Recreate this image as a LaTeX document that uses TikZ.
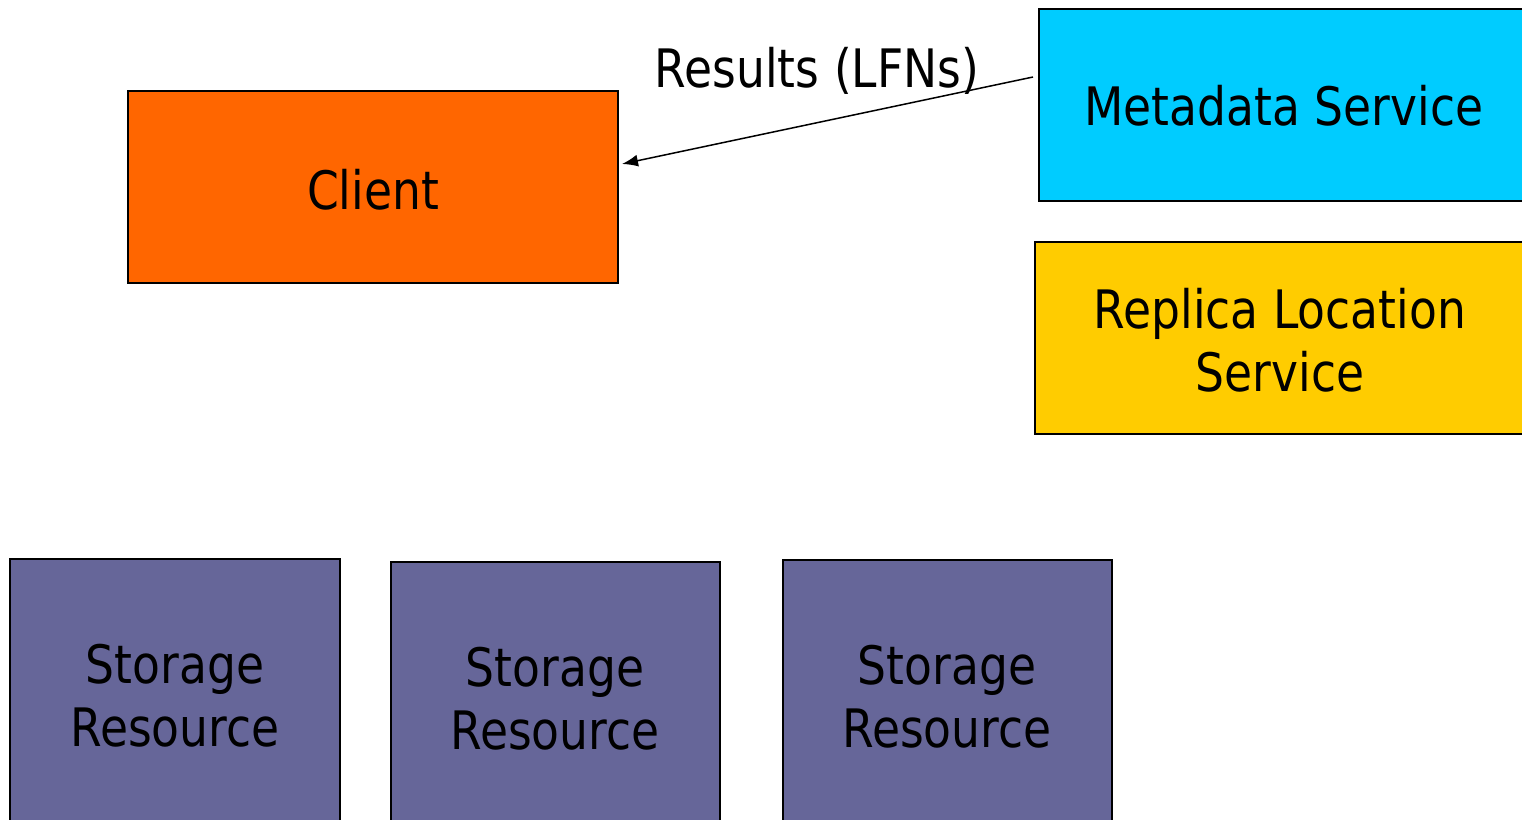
\documentclass[tikz,border=0pt]{standalone}
\usepackage{fontspec}
\setmainfont{DejaVu Sans}
\usetikzlibrary{arrows.meta}
\definecolor{clientc}{HTML}{FF6600}
\definecolor{metac}{HTML}{00CCFF}
\definecolor{replc}{HTML}{FFCC00}
\definecolor{storc}{HTML}{666699}
\newcommand\narrowtxt[1]{\scalebox{0.86}[1]{\begin{tabular}[t]{@{}c@{}}#1\end{tabular}}}
\tikzset{
  box/.style={draw=black, line width=1.5pt},
  lbl/.style={font=\fontsize{53pt}{63pt}\selectfont, inner sep=0pt, anchor=base},
}
\begin{document}
\begin{tikzpicture}[x=1pt,y=-1pt]
\useasboundingbox (0,0) rectangle (1522,819);
\clip (0,0) rectangle (1522,819);
\draw[box, fill=clientc] (128,91) rectangle (618,283);
\node[lbl] (client) at (373,209) {\narrowtxt{Client}};
\draw[box, fill=metac] (1039,9) rectangle (1530,201);
\node[lbl] (meta) at (1284,125) {\narrowtxt{Metadata Service}};
\draw[box, fill=replc] (1035,242) rectangle (1530,434);
\node[lbl] (repl) at (1280,328) {\narrowtxt{Replica Location\\Service}};
\draw[box, fill=storc] (10,559) rectangle (340,830);
\node[lbl] (s1) at (175,683) {\narrowtxt{Storage\\Resource}};
\draw[box, fill=storc] (391,562) rectangle (720,830);
\node[lbl] (s2) at (555,686) {\narrowtxt{Storage\\Resource}};
\draw[box, fill=storc] (783,560) rectangle (1112,830);
\node[lbl] (s3) at (947,684) {\narrowtxt{Storage\\Resource}};
\coordinate (from) at (1033,77);
\coordinate (to) at (622,164);
\draw[line width=1.5pt, -{Latex[length=16pt,width=12pt]}] (from) -- (to);
\node[lbl] (res) at (817,87) {\narrowtxt{Results (LFNs)}};
\end{tikzpicture}
\end{document}
